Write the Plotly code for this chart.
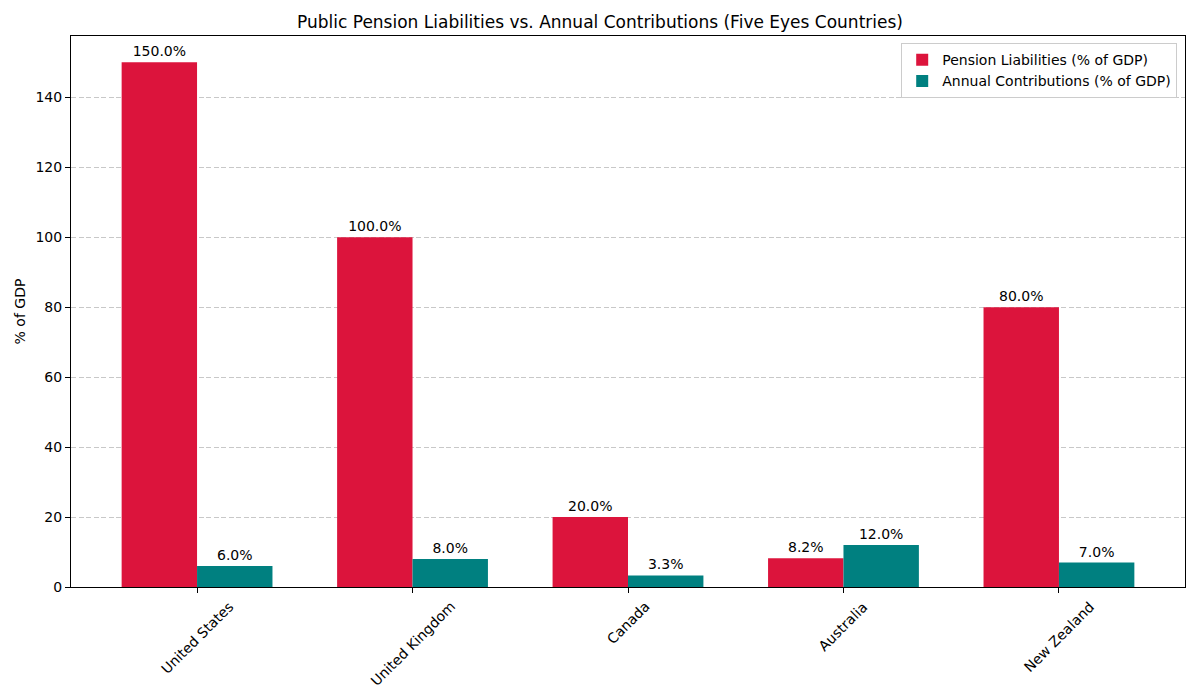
import plotly.graph_objects as go

countries = ["United States", "United Kingdom", "Canada", "Australia", "New Zealand"]
liabilities = [150.0, 100.0, 20.0, 8.2, 80.0]
contributions = [6.0, 8.0, 3.3, 12.0, 7.0]

bar_width = 0.35
idx = list(range(len(countries)))

fig = go.Figure()
fig.add_trace(go.Bar(
    x=idx, y=liabilities, width=bar_width, offset=-bar_width,
    name="Pension Liabilities (% of GDP)",
    marker=dict(color="#DC143C", line=dict(width=0)),
    text=[f"{v:.1f}%" for v in liabilities], textposition="outside",
    textfont=dict(size=14, color="black"), cliponaxis=False,
))
fig.add_trace(go.Bar(
    x=idx, y=contributions, width=bar_width, offset=0,
    name="Annual Contributions (% of GDP)",
    marker=dict(color="#008080", line=dict(width=0)),
    text=[f"{v:.1f}%" for v in contributions], textposition="outside",
    textfont=dict(size=14, color="black"), cliponaxis=False,
))

# category labels, rotated around their centre like matplotlib does
for i, name in zip(idx, countries):
    fig.add_annotation(
        x=i, xref="x", y=0, yref="paper", text=name, textangle=-45,
        showarrow=False, xanchor="center", yanchor="top", yshift=-9,
        font=dict(size=14, color="black"),
    )

fig.update_layout(
    width=1200, height=700,
    paper_bgcolor="white", plot_bgcolor="white",
    font=dict(family="DejaVu Sans", size=14, color="black"),
    margin=dict(l=71, r=15, t=36, b=113),
    title=dict(text="Public Pension Liabilities vs. Annual Contributions (Five Eyes Countries)",
               x=0.5, xanchor="center", y=0.969, yanchor="middle", font=dict(size=17)),
    barmode="overlay",
    legend=dict(x=0.993, y=0.987, xanchor="right", yanchor="top",
                bgcolor="rgba(255,255,255,0.8)", bordercolor="#cccccc", borderwidth=1,
                font=dict(size=14), tracegroupgap=0),
    showlegend=True,
)
fig.update_xaxes(
    tickmode="array", tickvals=idx, ticktext=["" for _ in countries],
    range=[-0.585, 4.585], showgrid=False, zeroline=False,
    showline=True, linecolor="black", linewidth=1, mirror=True,
    ticks="outside", ticklen=5, tickcolor="black",
)
fig.update_yaxes(
    title=dict(text="% of GDP", standoff=6, font=dict(size=14)), range=[0, 157.5],
    tickvals=[0, 20, 40, 60, 80, 100, 120, 140],
    showgrid=True, gridcolor="rgba(176,176,176,0.7)", griddash="5px,2.5px", gridwidth=1,
    zeroline=False, showline=True, linecolor="black", linewidth=1, mirror=True,
    ticks="outside", ticklen=5, tickcolor="black", tickfont=dict(size=14),
)

fig.write_html("out.html", config={"displayModeBar": False},
               post_script="document.body.style.margin='0';")
